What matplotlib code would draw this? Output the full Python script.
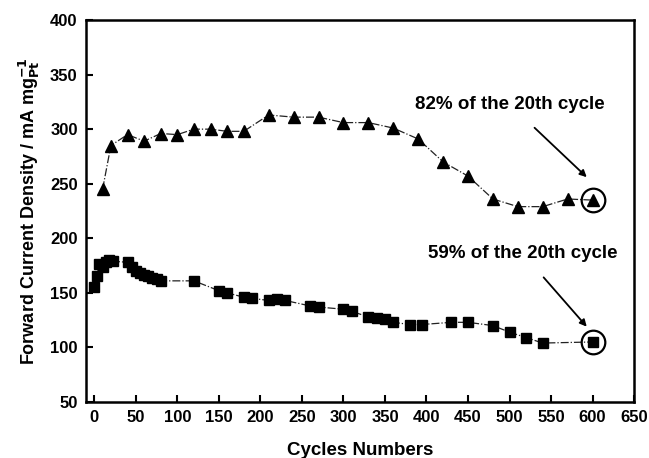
import matplotlib.pyplot as plt

plt.rcParams['font.family'] = ['Liberation Sans', 'DejaVu Sans']
plt.rcParams['font.weight'] = 'bold'

# forward current density vs. cycle number
cycles_tri = [10, 20, 40, 60, 80, 100, 120, 140, 160, 180, 210, 240,
              270, 300, 330, 360, 390, 420, 450, 480, 510, 540, 570, 600]
density_tri = [245, 285, 295, 289, 296, 295, 300, 300, 298, 298, 313, 311,
               311, 306, 306, 301, 291, 270, 257, 236, 229, 229, 236, 235]

cycles_sq = [0, 3, 6, 10, 14, 18, 22, 40, 45, 50, 55, 60, 65, 70, 75, 80,
             120, 150, 160, 180, 190, 210, 220, 230, 260, 270, 300, 310,
             330, 340, 350, 360, 380, 395, 430, 450, 480, 500, 520, 540, 600]
density_sq = [155, 165, 176, 174, 178, 180, 179, 178, 174, 170, 168, 166,
              165, 164, 163, 161, 161, 152, 150, 146, 145, 143, 144, 143,
              138, 137, 135, 133, 128, 127, 126, 123, 121, 121, 123, 123,
              120, 114, 109, 104, 105]

xticks = list(range(0, 651, 50))
yticks = list(range(50, 401, 50))

fig = plt.figure(figsize=(6.49, 4.58), dpi=100)
ax = fig.add_axes([0.1325, 0.1223, 0.8445, 0.834])

ax.plot(cycles_tri, density_tri, ls='-.', lw=0.9, color='#222222',
        marker='^', ms=8, mfc='black', mec='black')
ax.plot(cycles_sq, density_sq, ls='-.', lw=0.9, color='#222222',
        marker='s', ms=6.5, mfc='black', mec='black')

# open circles around the last points
ax.plot([cycles_tri[-1]], [density_tri[-1]], 'o', ms=17, mfc='none',
        mec='black', mew=1.6)
ax.plot([cycles_sq[-1]], [density_sq[-1]], 'o', ms=17, mfc='none',
        mec='black', mew=1.6)

ax.annotate('82% of the 20th cycle', xy=(593, 256), xytext=(500, 323),
            ha='center', va='center', fontsize=13.5, fontweight='bold',
            arrowprops=dict(arrowstyle='-|>', color='black', lw=1.3,
                            shrinkA=13, shrinkB=0, mutation_scale=10))
ax.annotate('59% of the 20th cycle', xy=(593, 119), xytext=(516, 186),
            ha='center', va='center', fontsize=13.5, fontweight='bold',
            arrowprops=dict(arrowstyle='-|>', color='black', lw=1.3,
                            shrinkA=12, shrinkB=0, mutation_scale=10))

ax.set_xlim(-10, 650)
ax.set_ylim(50, 400)
ax.set_xticks(xticks)
ax.set_yticks(yticks)
ax.tick_params(direction='in', length=5, width=1.5, labelsize=12,
               top=False, right=False, pad=6)
for lbl in ax.get_xticklabels() + ax.get_yticklabels():
    lbl.set_fontweight('bold')
for sp in ax.spines.values():
    sp.set_linewidth(1.8)

ax.set_xlabel('Cycles Numbers', fontsize=13.5, fontweight='bold', labelpad=12)
ax.set_ylabel(r'Forward Current Density / mA mg$_{\mathbf{Pt}}^{\mathbf{-1}}$',
              fontsize=13, fontweight='bold', labelpad=6)

fig.savefig('out.png', dpi=100)
